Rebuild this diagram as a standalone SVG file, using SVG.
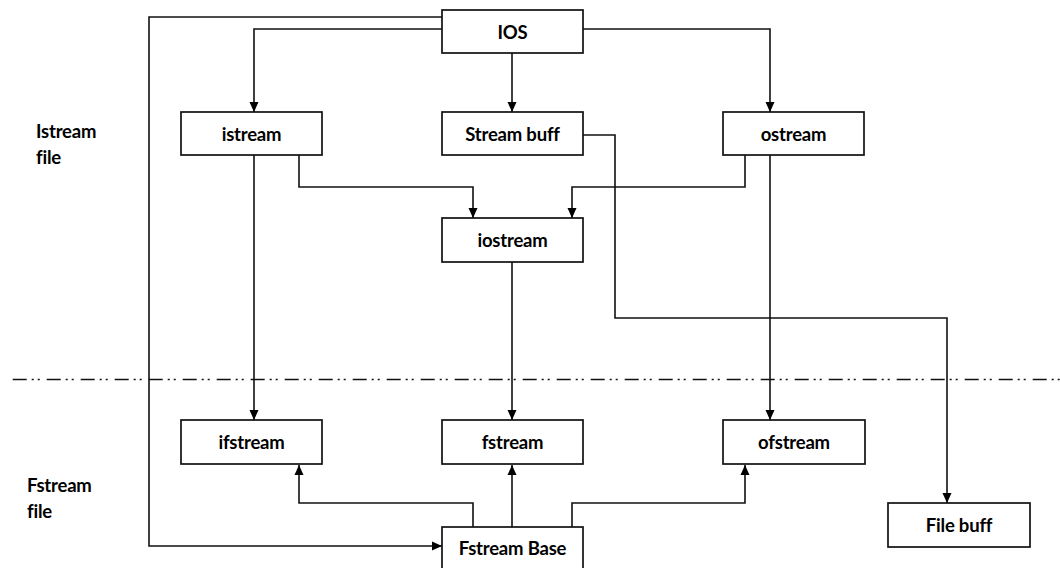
<svg xmlns="http://www.w3.org/2000/svg" width="1060" height="568" viewBox="0 0 1060 568">
  <style>
    .box { fill: #ffffff; stroke: #111111; stroke-width: 1.7; }
    .lbl { font-family: Lato, "Liberation Sans", sans-serif; font-weight: bold; font-size: 18.5px; letter-spacing: -0.2px; fill: #000; text-anchor: middle; dominant-baseline: central; }
    .side { font-family: Lato, "Liberation Sans", sans-serif; font-weight: bold; font-size: 18.5px; letter-spacing: -0.2px; fill: #000; }
    .wire { fill: none; stroke: #111111; stroke-width: 1.6; }
    .sep { fill: none; stroke: #111111; stroke-width: 1.4; stroke-dasharray: 14 5 2 4 2 7; }
  </style>
  <defs>
    <marker id="arrow" viewBox="0 0 10 10" refX="10" refY="5" markerWidth="10" markerHeight="10" markerUnits="userSpaceOnUse" orient="auto">
      <path d="M0,0.5 L10,5 L0,9.5 Z" fill="#000"/>
    </marker>
  </defs>
  <rect width="1060" height="568" fill="#ffffff"/>

  <!-- section separator -->
  <line class="sep" x1="12.7" y1="379.5" x2="1060" y2="379.5"/>

  <!-- section labels -->
  <text class="side" x="36" y="138">Istream</text>
  <text class="side" x="36" y="164">file</text>
  <text class="side" x="27" y="492">Fstream</text>
  <text class="side" x="27" y="518">file</text>

  <!-- connectors -->
  <g id="connectors">
    <path class="wire" d="M442,17 H149 V546 H442" marker-end="url(#arrow)"/>
    <path class="wire" d="M442,29 H254 V112" marker-end="url(#arrow)"/>
    <path class="wire" d="M512,53 V112" marker-end="url(#arrow)"/>
    <path class="wire" d="M583,29 H770 V112" marker-end="url(#arrow)"/>
    <path class="wire" d="M299,155 V187 H473 V218" marker-end="url(#arrow)"/>
    <path class="wire" d="M745,155 V187 H572 V218" marker-end="url(#arrow)"/>
    <path class="wire" d="M583,135 H615 V318 H947 V503" marker-end="url(#arrow)"/>
    <path class="wire" d="M254,155 V420" marker-end="url(#arrow)"/>
    <path class="wire" d="M512,262 V420" marker-end="url(#arrow)"/>
    <path class="wire" d="M770,155 V420" marker-end="url(#arrow)"/>
    <path class="wire" d="M473,527 V503 H299 V465" marker-end="url(#arrow)"/>
    <path class="wire" d="M512,527 V465" marker-end="url(#arrow)"/>
    <path class="wire" d="M572,527 V503 H745 V465" marker-end="url(#arrow)"/>
  </g>

  <!-- nodes -->
  <g id="ios">
    <rect class="box" x="442" y="10" width="141" height="43"/>
    <text class="lbl" x="512.5" y="31.5">IOS</text>
  </g>
  <g id="istream">
    <rect class="box" x="181" y="112" width="141" height="43"/>
    <text class="lbl" x="251.5" y="133.5">istream</text>
  </g>
  <g id="streambuff">
    <rect class="box" x="442" y="112" width="141" height="43"/>
    <text class="lbl" x="512.5" y="133.5">Stream buff</text>
  </g>
  <g id="ostream">
    <rect class="box" x="723" y="112" width="141" height="43"/>
    <text class="lbl" x="793.5" y="133.5">ostream</text>
  </g>
  <g id="iostream">
    <rect class="box" x="442" y="218" width="141" height="44"/>
    <text class="lbl" x="512.5" y="240">iostream</text>
  </g>
  <g id="ifstream">
    <rect class="box" x="181" y="420" width="141" height="44"/>
    <text class="lbl" x="251.5" y="442">ifstream</text>
  </g>
  <g id="fstream">
    <rect class="box" x="442" y="420" width="141" height="44"/>
    <text class="lbl" x="512.5" y="442">fstream</text>
  </g>
  <g id="ofstream">
    <rect class="box" x="723" y="420" width="142" height="44"/>
    <text class="lbl" x="794" y="442">ofstream</text>
  </g>
  <g id="filebuff">
    <rect class="box" x="888" y="503" width="142" height="44"/>
    <text class="lbl" x="959" y="525">File buff</text>
  </g>
  <g id="fstreambase">
    <rect class="box" x="442" y="527" width="141" height="43"/>
    <text class="lbl" x="512.5" y="548">Fstream Base</text>
  </g>
</svg>
